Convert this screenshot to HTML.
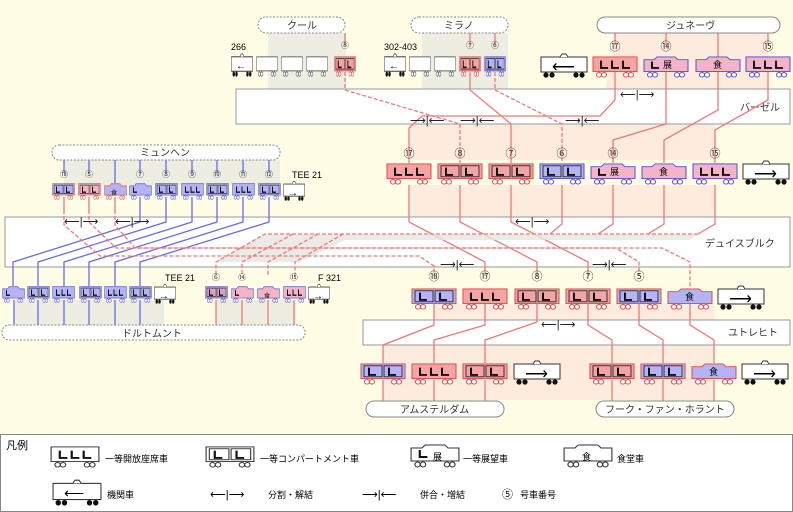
<!DOCTYPE html>
<html><head><meta charset="utf-8"><style>
html,body{margin:0;padding:0;background:#fffde6}
svg{display:block;font-family:"Liberation Sans","Noto Sans CJK JP",sans-serif}
.t{font-size:10px;fill:#333}
.n{font-size:8px;fill:#333;text-anchor:middle}
.r{stroke:#f07878;stroke-width:1.3;fill:none}
.rd{stroke:#f07878;stroke-width:1.3;fill:none;stroke-dasharray:4 2}
.b{stroke:#6a6ae8;stroke-width:1.3;fill:none}
.pill{fill:#fff;stroke:#888;stroke-width:1;stroke-dasharray:2 1.5}
.pills{fill:#fff;stroke:#888;stroke-width:1}
.box{fill:#fff;stroke:#999;stroke-width:1}
</style></head><body>
<svg width="793" height="512" viewBox="0 0 793 512">
<defs>
<symbol id="car" viewBox="0 0 46 24" preserveAspectRatio="none"><rect x="1" y="1" width="44" height="16"/><g fill="#fff"><circle cx="7" cy="20.5" r="2.5"/><circle cx="12" cy="20.5" r="2.5"/><circle cx="34" cy="20.5" r="2.5"/><circle cx="39" cy="20.5" r="2.5"/></g></symbol>
<symbol id="dome" viewBox="0 0 46 24" preserveAspectRatio="none"><path d="M1 17V4h10l3-3h18l3 3h10v13z"/><g fill="#fff"><circle cx="7" cy="20.5" r="2.5"/><circle cx="12" cy="20.5" r="2.5"/><circle cx="34" cy="20.5" r="2.5"/><circle cx="39" cy="20.5" r="2.5"/></g></symbol>
<symbol id="loco" viewBox="0 0 48 26" preserveAspectRatio="none"><rect x="1" y="5" width="46" height="15" fill="#fff" stroke="#333"/><path d="M20 5l2-3h4l2 3" fill="#fff" stroke="#333"/><g fill="#111"><circle cx="6" cy="23" r="2.6"/><circle cx="12" cy="23" r="2.6"/><circle cx="36" cy="23" r="2.6"/><circle cx="42" cy="23" r="2.6"/></g></symbol>
<symbol id="s3" viewBox="0 0 46 24" preserveAspectRatio="none"><path d="M9 5v8h7M20 5v8h7M31 5v8h7" stroke="#111" stroke-width="2" fill="none"/></symbol>
<symbol id="s2" viewBox="0 0 46 24" preserveAspectRatio="none"><rect x="4" y="3" width="18" height="12" fill="none" stroke="#333"/><rect x="24" y="3" width="18" height="12" fill="none" stroke="#333"/><path d="M9 5v8h7M29 5v8h7" stroke="#111" stroke-width="2" fill="none"/></symbol>
<symbol id="s1" viewBox="0 0 46 24" preserveAspectRatio="none"><path d="M9 6v7h7" stroke="#111" stroke-width="2" fill="none"/></symbol>
</defs>
<rect width="793" height="512" fill="#fffde6"/>

<!-- shaded bands -->
<g fill="#e8e8e0" opacity="0.8">
<rect x="268" y="33" width="78" height="91"/><rect x="422" y="33" width="86" height="91"/>
<rect x="64" y="160" width="216" height="25"/>
<rect x="14" y="300" width="150" height="28"/><rect x="216" y="300" width="80" height="28"/>
</g>
<g fill="#fce0d8" opacity="0.6">
<polygon points="615,33 768,33 768,95 715,124 715,160 409,160 409,124 600,124"/>
<polygon points="409,185 715,185 715,222 690,234 690,262 409,262"/>
<polygon points="434,304 714,304 714,400 383,400 383,345 434,320"/>
</g>

<!-- station boxes -->
<rect class="box" x="236" y="89" width="554" height="35"/>
<rect class="box" x="5" y="217" width="785" height="50"/>
<rect class="box" x="363" y="320" width="427" height="25"/>
<text class="t" x="740" y="111">バーゼル</text>
<text class="t" x="705" y="247">デュイスブルク</text>
<text class="t" x="728" y="336">ユトレヒト</text>

<!-- connectors Basel -->
<path class="r" d="M615 72V100L600 116H422L409 128V163"/>
<path class="r" d="M666 72V124L613 140V163"/>
<path class="r" d="M718 72V110L664 140V163"/>
<path class="r" d="M768 72V100L715 130V163"/>
<path class="rd" d="M345 72V90L460 124V163"/>
<path class="r" d="M470 72V90L511 124V163"/>
<path class="rd" d="M495 72V90L562 124V163"/>
<path class="r" d="M345 33V45M470 33V45M495 33V45M615 33V45M666 33V45M718 33V57M768 33V45"/>

<!-- Row B to C -->
<path class="r" d="M409 185V222L485 262V276"/>
<path class="r" d="M460 185V222L537 262V276"/>
<path class="r" d="M511 185V222L588 262V276"/>
<path class="r" d="M562 185V224L550 234"/>
<path class="r" d="M613 185V224L598 234"/>
<path class="r" d="M664 185V224L648 234"/>
<path class="r" d="M715 185V224L698 234"/>
<g fill="#e6e6e0" opacity="0.8"><polygon points="265,234 698,234 690,240 345,240 300,262 216,262"/></g>
<path class="rd" d="M698 234H265L216 262V276M293 234L242 262V276M318 234L268 262V276M343 234L295 262V276"/>

<!-- Munich -->
<path class="b" d="M64 160V173M89 160V173M115 160V183M140 160V173M166 160V173M192 160V173M217 160V173M243 160V173M269 160V173"/>
<path class="b" d="M140 197V222L13 262V286M166 197V222L38 262V286M192 197V222L64 262V286M217 197V222L89 262V286M243 197V222L115 262V286M269 197V222L140 262V286"/>
<path class="r" d="M64 197V210M89 197V210M115 197V210"/>
<path class="rd" d="M64 210V225L100 256H419L434 266V276"/>
<path class="rd" d="M89 210V222L116 248H616L639 262V276"/>
<path class="rd" d="M115 210V225L135 248H662L690 262V288"/>
<path class="b" d="M14 300V325M38 300V325M64 300V325M89 300V325M115 300V325M140 300V325"/>
<path class="r" d="M216 300V325M242 300V325M268 300V325M294 300V325"/>

<!-- Row C to D -->
<path class="r" d="M434 304V325L383 345V363"/>
<path class="r" d="M485 304V325L434 340V363"/>
<path class="r" d="M537 304V322L485 340V363"/>
<path class="r" d="M588 304V325L612 340V363"/>
<path class="r" d="M639 304V325L663 340V363"/>
<path class="r" d="M690 304V325L714 340V363"/>
<path class="r" d="M383 380V401M434 380V401M485 380V401M612 380V401M663 380V401M714 380V401"/>

<!-- pills -->
<rect class="pill" x="258" y="17" width="87" height="16" rx="8"/><text class="t" x="287" y="29">クール</text>
<rect class="pill" x="411" y="17" width="97" height="16" rx="8"/><text class="t" x="444" y="29">ミラノ</text>
<rect class="pills" x="597" y="17" width="183" height="16" rx="8"/><text class="t" x="666" y="29">ジュネーヴ</text>
<rect class="pill" x="52" y="145" width="228" height="15" rx="7"/><text class="t" x="140" y="156">ミュンヘン</text>
<rect class="pill" x="2" y="325" width="303" height="15" rx="7"/><text class="t" x="122" y="337">ドルトムント</text>
<rect class="pills" x="366" y="401" width="138" height="16" rx="8"/><text class="t" x="400" y="413">アムステルダム</text>
<rect class="pills" x="596" y="401" width="138" height="16" rx="8"/><text class="t" x="605" y="413">フーク・ファン・ホラント</text>

<!-- Row A -->
<g stroke-width="1">
<use href="#loco" x="231" y="52" width="22" height="25"/><text x="236" y="69" font-size="10">←</text>
<g fill="#fff" stroke="#555"><use href="#car" x="256" y="56" width="22" height="21"/><use href="#car" x="281" y="56" width="22" height="21"/><use href="#car" x="306" y="56" width="22" height="21"/>
<use href="#car" x="409" y="56" width="22" height="21"/><use href="#car" x="434" y="56" width="22" height="21"/></g>
<use href="#car" x="334" y="56" width="22" height="21" fill="#f4a4a4" stroke="#e04848"/><use href="#s2" x="334" y="56" width="22" height="21"/>
<use href="#loco" x="384" y="52" width="22" height="25"/><text x="389" y="69" font-size="10">←</text>
<use href="#car" x="459" y="56" width="22" height="21" fill="#f4a4a4" stroke="#e04848"/><use href="#s2" x="459" y="56" width="22" height="21"/>
<use href="#car" x="484" y="56" width="22" height="21" fill="#b4b4f4" stroke="#5050d8"/><use href="#s2" x="484" y="56" width="22" height="21"/>
<use href="#loco" x="540" y="52" width="48" height="26"/><text x="552" y="72" font-size="16">⟵</text>
<use href="#car" x="592" y="56" width="46" height="22" fill="#f4a4a4" stroke="#e04848"/><use href="#s3" x="592" y="56" width="46" height="22"/>
<use href="#dome" x="643" y="56" width="46" height="22" fill="#f4b4c8" stroke="#5050d8"/><use href="#s1" x="643" y="56" width="46" height="22"/><text x="663" y="68" font-size="9">展</text>
<use href="#dome" x="695" y="56" width="46" height="22" fill="#f4b4c8" stroke="#5050d8"/><text x="713" y="68" font-size="9">食</text>
<use href="#car" x="745" y="56" width="46" height="22" fill="#f4b4c8" stroke="#5050d8"/><use href="#s3" x="745" y="56" width="46" height="22"/>
</g>
<text x="231" y="50" font-size="9">266</text><text x="384" y="50" font-size="9">302-403</text>

<!-- Row B -->
<g>
<use href="#car" x="386" y="163" width="46" height="22" fill="#f4a4a4" stroke="#e04848"/><use href="#s3" x="386" y="163" width="46" height="22"/>
<use href="#car" x="437" y="163" width="46" height="22" fill="#f4a4a4" stroke="#e04848"/><use href="#s2" x="437" y="163" width="46" height="22"/>
<use href="#car" x="488" y="163" width="46" height="22" fill="#f4a4a4" stroke="#e04848"/><use href="#s2" x="488" y="163" width="46" height="22"/>
<use href="#car" x="539" y="163" width="46" height="22" fill="#b4b4f4" stroke="#5050d8"/><use href="#s2" x="539" y="163" width="46" height="22"/>
<use href="#dome" x="590" y="163" width="46" height="22" fill="#f4b4c8" stroke="#5050d8"/><use href="#s1" x="590" y="163" width="46" height="22"/><text x="610" y="175" font-size="9">展</text>
<use href="#dome" x="641" y="163" width="46" height="22" fill="#f4b4c8" stroke="#5050d8"/><text x="659" y="175" font-size="9">食</text>
<use href="#car" x="692" y="163" width="46" height="22" fill="#f4b4c8" stroke="#5050d8"/><use href="#s3" x="692" y="163" width="46" height="22"/>
<use href="#loco" x="742" y="159" width="48" height="26"/><text x="754" y="179" font-size="16">⟶</text>
</g>

<!-- Munich row -->
<g>
<use href="#car" x="52" y="183" width="23" height="17" fill="#b4b4f4" stroke="#e04848"/><use href="#s2" x="52" y="183" width="23" height="17"/>
<use href="#car" x="78" y="183" width="23" height="17" fill="#f4b4c8" stroke="#e04848"/><use href="#s2" x="78" y="183" width="23" height="17"/>
<use href="#dome" x="104" y="183" width="23" height="17" fill="#b4b4f4" stroke="#e04848"/><text x="111" y="195" font-size="6">食</text>
<use href="#dome" x="129" y="183" width="23" height="17" fill="#b4b4f4" stroke="#5050d8"/><use href="#s1" x="129" y="183" width="23" height="17"/>
<use href="#car" x="155" y="183" width="23" height="17" fill="#b4b4f4" stroke="#5050d8"/><use href="#s2" x="155" y="183" width="23" height="17"/>
<use href="#car" x="181" y="183" width="23" height="17" fill="#b4b4f4" stroke="#5050d8"/><use href="#s3" x="181" y="183" width="23" height="17"/>
<use href="#car" x="206" y="183" width="23" height="17" fill="#b4b4f4" stroke="#5050d8"/><use href="#s2" x="206" y="183" width="23" height="17"/>
<use href="#car" x="232" y="183" width="23" height="17" fill="#b4b4f4" stroke="#5050d8"/><use href="#s3" x="232" y="183" width="23" height="17"/>
<use href="#car" x="258" y="183" width="23" height="17" fill="#b4b4f4" stroke="#5050d8"/><use href="#s2" x="258" y="183" width="23" height="17"/>
<use href="#loco" x="283" y="180" width="22" height="21"/><text x="288" y="196" font-size="10">→</text>
<text x="292" y="178" font-size="9">TEE 21</text>
</g>

<!-- Dortmund row -->
<g>
<use href="#dome" x="2" y="286" width="23" height="17" fill="#b4b4f4" stroke="#5050d8"/><use href="#s1" x="2" y="286" width="23" height="17"/>
<use href="#car" x="27" y="286" width="23" height="17" fill="#b4b4f4" stroke="#5050d8"/><use href="#s2" x="27" y="286" width="23" height="17"/>
<use href="#car" x="52" y="286" width="23" height="17" fill="#b4b4f4" stroke="#5050d8"/><use href="#s3" x="52" y="286" width="23" height="17"/>
<use href="#car" x="79" y="286" width="23" height="17" fill="#b4b4f4" stroke="#5050d8"/><use href="#s2" x="79" y="286" width="23" height="17"/>
<use href="#car" x="104" y="286" width="23" height="17" fill="#b4b4f4" stroke="#5050d8"/><use href="#s3" x="104" y="286" width="23" height="17"/>
<use href="#car" x="129" y="286" width="23" height="17" fill="#b4b4f4" stroke="#5050d8"/><use href="#s2" x="129" y="286" width="23" height="17"/>
<use href="#loco" x="154" y="283" width="22" height="21"/><text x="159" y="299" font-size="10">→</text>
<text x="165" y="281" font-size="9">TEE 21</text>
<use href="#car" x="205" y="286" width="23" height="17" fill="#d4a4c4" stroke="#5050d8"/><use href="#s2" x="205" y="286" width="23" height="17"/>
<use href="#dome" x="231" y="286" width="23" height="17" fill="#f4b4c8" stroke="#5050d8"/><use href="#s1" x="231" y="286" width="23" height="17"/>
<use href="#dome" x="257" y="286" width="23" height="17" fill="#f4b4c8" stroke="#5050d8"/><text x="264" y="298" font-size="6">食</text>
<use href="#car" x="283" y="286" width="23" height="17" fill="#f4b4c8" stroke="#5050d8"/><use href="#s3" x="283" y="286" width="23" height="17"/>
<use href="#loco" x="308" y="283" width="22" height="21"/><text x="313" y="299" font-size="10">→</text>
<text x="318" y="281" font-size="9">F 321</text>
</g>

<!-- Row C -->
<g>
<use href="#car" x="411" y="288" width="46" height="22" fill="#b4b4f4" stroke="#e04848"/><use href="#s2" x="411" y="288" width="46" height="22"/>
<use href="#car" x="462" y="288" width="46" height="22" fill="#f4a4a4" stroke="#e04848"/><use href="#s3" x="462" y="288" width="46" height="22"/>
<use href="#car" x="514" y="288" width="46" height="22" fill="#f4a4a4" stroke="#e04848"/><use href="#s2" x="514" y="288" width="46" height="22"/>
<use href="#car" x="565" y="288" width="46" height="22" fill="#f4a4a4" stroke="#e04848"/><use href="#s2" x="565" y="288" width="46" height="22"/>
<use href="#car" x="616" y="288" width="46" height="22" fill="#b4b4f4" stroke="#e04848"/><use href="#s2" x="616" y="288" width="46" height="22"/>
<use href="#dome" x="667" y="288" width="46" height="22" fill="#b4b4f4" stroke="#e04848"/><text x="685" y="300" font-size="9">食</text>
<use href="#loco" x="717" y="284" width="48" height="26"/><text x="729" y="304" font-size="16">⟶</text>
</g>

<!-- Row D -->
<g>
<use href="#car" x="360" y="363" width="46" height="22" fill="#b4b4f4" stroke="#e04848"/><use href="#s2" x="360" y="363" width="46" height="22"/>
<use href="#car" x="411" y="363" width="46" height="22" fill="#f4a4a4" stroke="#e04848"/><use href="#s3" x="411" y="363" width="46" height="22"/>
<use href="#car" x="462" y="363" width="46" height="22" fill="#f4a4a4" stroke="#e04848"/><use href="#s2" x="462" y="363" width="46" height="22"/>
<use href="#loco" x="513" y="359" width="48" height="26"/><text x="525" y="379" font-size="16">⟶</text>
<use href="#car" x="589" y="363" width="46" height="22" fill="#f4a4a4" stroke="#e04848"/><use href="#s2" x="589" y="363" width="46" height="22"/>
<use href="#car" x="640" y="363" width="46" height="22" fill="#b4b4f4" stroke="#e04848"/><use href="#s2" x="640" y="363" width="46" height="22"/>
<use href="#dome" x="691" y="363" width="46" height="22" fill="#b4b4f4" stroke="#e04848"/><text x="709" y="375" font-size="9">食</text>
<use href="#loco" x="741" y="359" width="48" height="26"/><text x="753" y="379" font-size="16">⟶</text>
</g>

<!-- car numbers -->
<g class="n">
<text x="345" y="48">⑧</text><text x="470" y="48">⑦</text><text x="495" y="48">⑥</text>
<text x="615" y="50" font-size="11">⑰</text><text x="666" y="50" font-size="11">⑭</text><text x="768" y="50" font-size="11">⑮</text>
<text x="409" y="157" font-size="11">⑰</text><text x="460" y="157" font-size="11">⑧</text><text x="511" y="157" font-size="11">⑦</text><text x="562" y="157" font-size="11">⑥</text><text x="613" y="157" font-size="11">⑭</text><text x="715" y="157" font-size="11">⑮</text>
<text x="64" y="177">⑱</text><text x="89" y="177">⑤</text><text x="140" y="177">⑦</text><text x="166" y="177">⑧</text><text x="192" y="177">⑨</text><text x="217" y="177">⑩</text><text x="243" y="177">⑪</text><text x="269" y="177">⑫</text>
<text x="216" y="280">⑥</text><text x="242" y="280">⑭</text><text x="294" y="280">⑮</text>
<text x="434" y="280" font-size="11">⑱</text><text x="485" y="280" font-size="11">⑰</text><text x="537" y="280" font-size="11">⑧</text><text x="588" y="280" font-size="11">⑦</text><text x="639" y="280" font-size="11">⑤</text>
</g>

<!-- split / join symbols -->
<g font-size="11" fill="#222">
<text x="620" y="98">⟵|⟶</text>
<text x="410" y="124">⟶|⟵</text><text x="460" y="124">⟶|⟵</text><text x="565" y="124">⟶|⟵</text>
<text x="64" y="225">⟵|⟶</text><text x="115" y="225">⟵|⟶</text>
<text x="515" y="225">⟵|⟶</text>
<text x="440" y="268">⟶|⟵</text><text x="592" y="268">⟶|⟵</text>
<text x="541" y="328">⟵|⟶</text>
</g>

<!-- legend -->
<rect x="0.5" y="434.5" width="792" height="77" fill="#fff" stroke="#888"/>
<text x="6" y="449" font-size="11">凡例</text>
<use href="#car" x="50" y="446" width="50" height="22" fill="#fff" stroke="#333"/><use href="#s3" x="50" y="446" width="50" height="22"/>
<text x="105" y="462" font-size="9">一等開放座席車</text>
<use href="#car" x="205" y="446" width="50" height="22" fill="#fff" stroke="#333"/><use href="#s2" x="205" y="446" width="50" height="22"/>
<text x="260" y="462" font-size="9">一等コンパートメント車</text>
<use href="#dome" x="410" y="444" width="50" height="24" fill="#fff" stroke="#333"/><use href="#s1" x="410" y="444" width="50" height="24"/><text x="433" y="460" font-size="9">展</text>
<text x="463" y="462" font-size="9">一等展望車</text>
<use href="#dome" x="563" y="444" width="50" height="24" fill="#fff" stroke="#333"/><text x="582" y="460" font-size="9">食</text>
<text x="617" y="462" font-size="9">食堂車</text>
<use href="#loco" x="52" y="478" width="50" height="28"/><text x="64" y="498" font-size="14">⟵</text>
<text x="107" y="498" font-size="9">機関車</text>
<text x="210" y="498" font-size="11">⟵|⟶</text><text x="268" y="498" font-size="9">分割・解結</text>
<text x="362" y="498" font-size="11">⟶|⟵</text><text x="420" y="498" font-size="9">併合・増結</text>
<text x="502" y="498" font-size="11">⑤</text><text x="520" y="498" font-size="9">号車番号</text>
</svg>
</body></html>
